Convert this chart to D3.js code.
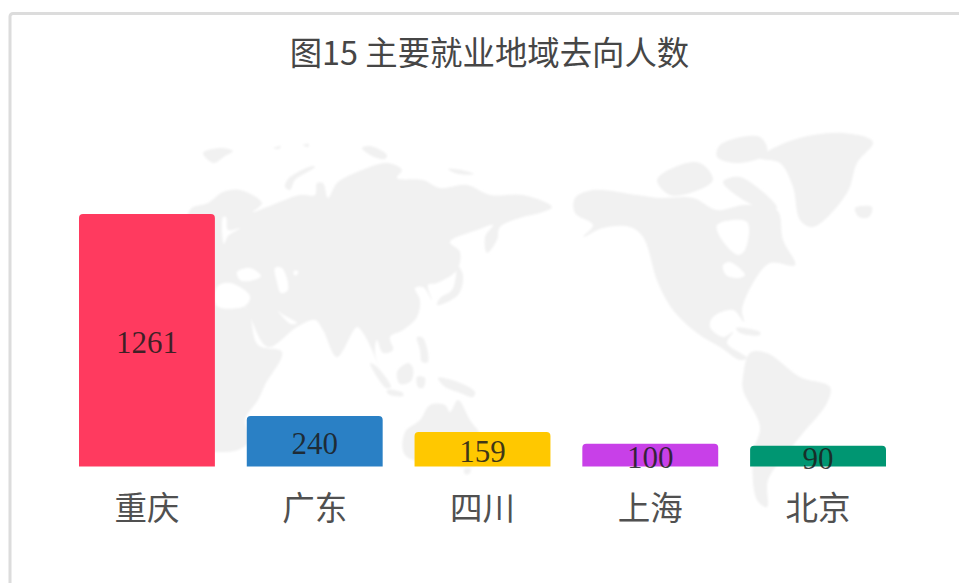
<!DOCTYPE html>
<html>
<head>
<meta charset="utf-8">
<script src="https://cdn.jsdelivr.net/npm/d3@7"></script>
<style>
  html, body { margin: 0; padding: 0; background: #fff; overflow: hidden; }
  svg { display: block; }
</style>
</head>
<body>
<div id="chart"></div>
<script>
// chart values
var titleText = "图15 主要就业地域去向人数";
var categories = ["重庆", "广东", "四川", "上海", "北京"];
var values = [1261, 240, 159, 100, 90];
var barColors = ["#ff3a5f", "#2a80c5", "#ffc800", "#c840e8", "#009672"];

// background world map, rough outlines in page pixels
var landShapes = [
  // eurasia
  [[208,203],[223,192],[240,190],[262,203],[253,212],[267,207],[300,195],[315,195],[317,183],[323,183],[328,198],[337,183],[357,172],[387,163],[402,170],[397,178],[423,180],[440,188],[467,185],[490,195],[523,195],[552,207],[540,213],[523,217],[500,227],[497,240],[487,253],[485,237],[493,225],[477,230],[450,242],[460,252],[457,270],[437,283],[428,285],[432,300],[423,287],[415,288],[420,300],[417,317],[403,330],[390,337],[393,350],[383,353],[377,340],[375,353],[383,377],[372,350],[363,333],[357,327],[337,357],[323,330],[315,320],[297,327],[268,347],[250,317],[245,307],[217,307],[190,300],[190,210]],
  // africa
  [[190,300],[245,307],[258,345],[282,352],[265,385],[258,400],[245,420],[250,440],[238,450],[217,452],[190,450]],
  // madagascar, japan, sakhalin side islands, se asia
  [[262,428],[273,424],[272,440],[262,452]],
  [[457,265],[463,275],[458,295],[437,305],[440,298],[452,290],[456,275]],
  [[397,372],[408,363],[413,368],[411,381],[400,384]],
  [[370,363],[376,366],[391,387],[386,388]],
  [[387,390],[403,393],[403,396],[388,394]],
  [[417,337],[423,338],[428,362],[422,362],[420,350]],
  [[417,377],[425,378],[423,388],[418,387]],
  [[438,378],[455,381],[475,392],[473,397],[458,392],[445,387]],
  // australia, tasmania
  [[405,432],[420,420],[430,405],[445,405],[450,412],[458,400],[470,420],[483,440],[478,464],[440,464],[405,455]],
  [[464,469],[471,469],[469,474],[465,474]],
  // arctic islands
  [[203,153],[220,148],[233,151],[225,156],[214,163],[208,160]],
  [[273,148],[281,146],[279,149]],
  [[303,145],[309,144],[308,147]],
  [[285,187],[289,178],[313,166],[315,167],[295,180],[290,190]],
  [[362,148],[370,146],[387,155],[385,159],[372,156]],
  [[448,169],[462,170],[474,174],[458,174]],
  // north america
  [[575,198],[593,190],[637,195],[660,198],[693,198],[717,210],[745,205],[777,210],[783,240],[795,265],[770,263],[753,283],[742,310],[744,322],[733,310],[713,317],[710,327],[723,337],[733,332],[727,343],[747,358],[740,360],[720,347],[697,333],[673,310],[658,283],[643,237],[630,227],[603,228],[583,237],[593,225],[575,213]],
  // south america
  [[750,353],[767,353],[800,377],[830,387],[827,403],[803,433],[787,453],[768,480],[767,507],[757,500],[753,453],[760,427],[743,390],[743,377]],
  // canadian arctic, greenland, iceland
  [[657,180],[675,167],[700,163],[713,180],[693,192],[670,195]],
  [[720,145],[760,137],[767,153],[740,163],[717,157]],
  [[723,182],[740,177],[777,208],[757,207]],
  [[760,158],[793,140],[843,133],[873,142],[857,163],[847,193],[813,227],[800,220],[793,187],[780,163]],
  [[855,208],[872,207],[869,217],[859,217]],
  [[736,328],[760,332],[760,335],[740,333]]
];
// seas cut out of the land
var seaShapes = [
  [[223,217],[226,217],[228,230],[240,228],[228,236],[224,244]],
  [[237,272],[250,268],[261,276],[250,281],[240,280]],
  [[275,268],[282,268],[288,290],[281,293],[277,282]],
  [[294,271],[298,271],[297,275],[294,275]],
  [[217,287],[230,283],[250,296],[245,306],[217,306]],
  [[277,310],[282,314],[297,323],[291,324]],
  [[717,225],[747,222],[745,250],[738,255],[722,240]],
  [[723,265],[730,262],[745,275],[738,278],[726,275]]
];

var chartWidth = 959,
    chartHeight = 583;

var svg = d3.select("#chart").append("svg")
    .attr("width", chartWidth)
    .attr("height", chartHeight);

// soft edges on the map, the reference is a blurry screenshot
svg.append("defs").append("filter")
    .attr("id", "soft")
    .append("feGaussianBlur")
    .attr("stdDeviation", 1);

// panel border, runs off the right and bottom
svg.append("rect")
    .attr("x", 10)
    .attr("y", 13.5)
    .attr("width", 1200)
    .attr("height", 1200)
    .attr("rx", 3)
    .style("fill", "#fff")
    .style("stroke", "#dcdcdc")
    .style("stroke-width", 3);

var line = d3.line().curve(d3.curveCatmullRomClosed.alpha(0.5));

var map = svg.append("g").attr("filter", "url(#soft)");

map.selectAll("path.land")
    .data(landShapes)
    .enter().append("path")
    .attr("class", "land")
    .attr("d", line)
    .style("fill", "#f1f1f1");

map.selectAll("path.sea")
    .data(seaShapes)
    .enter().append("path")
    .attr("class", "sea")
    .attr("d", line)
    .style("fill", "#fff");

svg.append("text")
    .text(titleText)
    .attr("x", 489.5)
    .attr("y", 65)
    .style("text-anchor", "middle")
    .style("font-family", "'Noto Sans CJK SC', sans-serif")
    .style("font-size", "32.4px")
    .style("fill", "#464646");

// set the ranges, domain starts under zero because short bars keep a minimum height
var x = d3.scaleBand()
    .domain(categories)
    .range([79, 886])
    .paddingInner(0.19)
    .paddingOuter(0);
var y = d3.scaleLinear()
    .domain([-15, 1261])
    .range([466.5, 214]);

// flat bottom, rounded top
function barPath(d) {
    var x0 = x(d.name), x1 = x0 + x.bandwidth(), top = y(d.value), base = y.range()[0], r = 4;
    var p = d3.path();
    p.moveTo(x0, base);
    p.lineTo(x0, top + r);
    p.quadraticCurveTo(x0, top, x0 + r, top);
    p.lineTo(x1 - r, top);
    p.quadraticCurveTo(x1, top, x1, top + r);
    p.lineTo(x1, base);
    p.closePath();
    return p.toString();
}

var rows = categories.map(function(name, i) {
    return {name: name, value: values[i], color: barColors[i]};
});

svg.selectAll("path.bar")
    .data(rows)
    .enter().append("path")
    .attr("class", "bar")
    .attr("d", barPath)
    .style("fill", function(d) { return d.color; });

svg.selectAll("text.value")
    .data(rows)
    .enter().append("text")
    .attr("class", "value")
    .text(function(d) { return d.value; })
    .attr("x", function(d) { return x(d.name) + x.bandwidth() / 2; })
    .attr("y", function(d) { return (y(d.value) + y.range()[0]) / 2 + 12.5; })
    .style("text-anchor", "middle")
    .style("font-family", "'Liberation Serif', serif")
    .style("font-size", "31px")
    .style("fill", "#1c1c1c")
    .style("fill-opacity", 0.85);

// category axis, labels only
var xAxis = svg.append("g")
    .attr("transform", "translate(0,466.5)")
    .call(d3.axisBottom(x).tickSize(0).tickPadding(30));
xAxis.select(".domain").remove();
xAxis.selectAll("text")
    .style("font-family", "'Noto Sans CJK SC', sans-serif")
    .style("font-size", "32.5px")
    .style("fill", "#505050");
</script>
</body>
</html>
